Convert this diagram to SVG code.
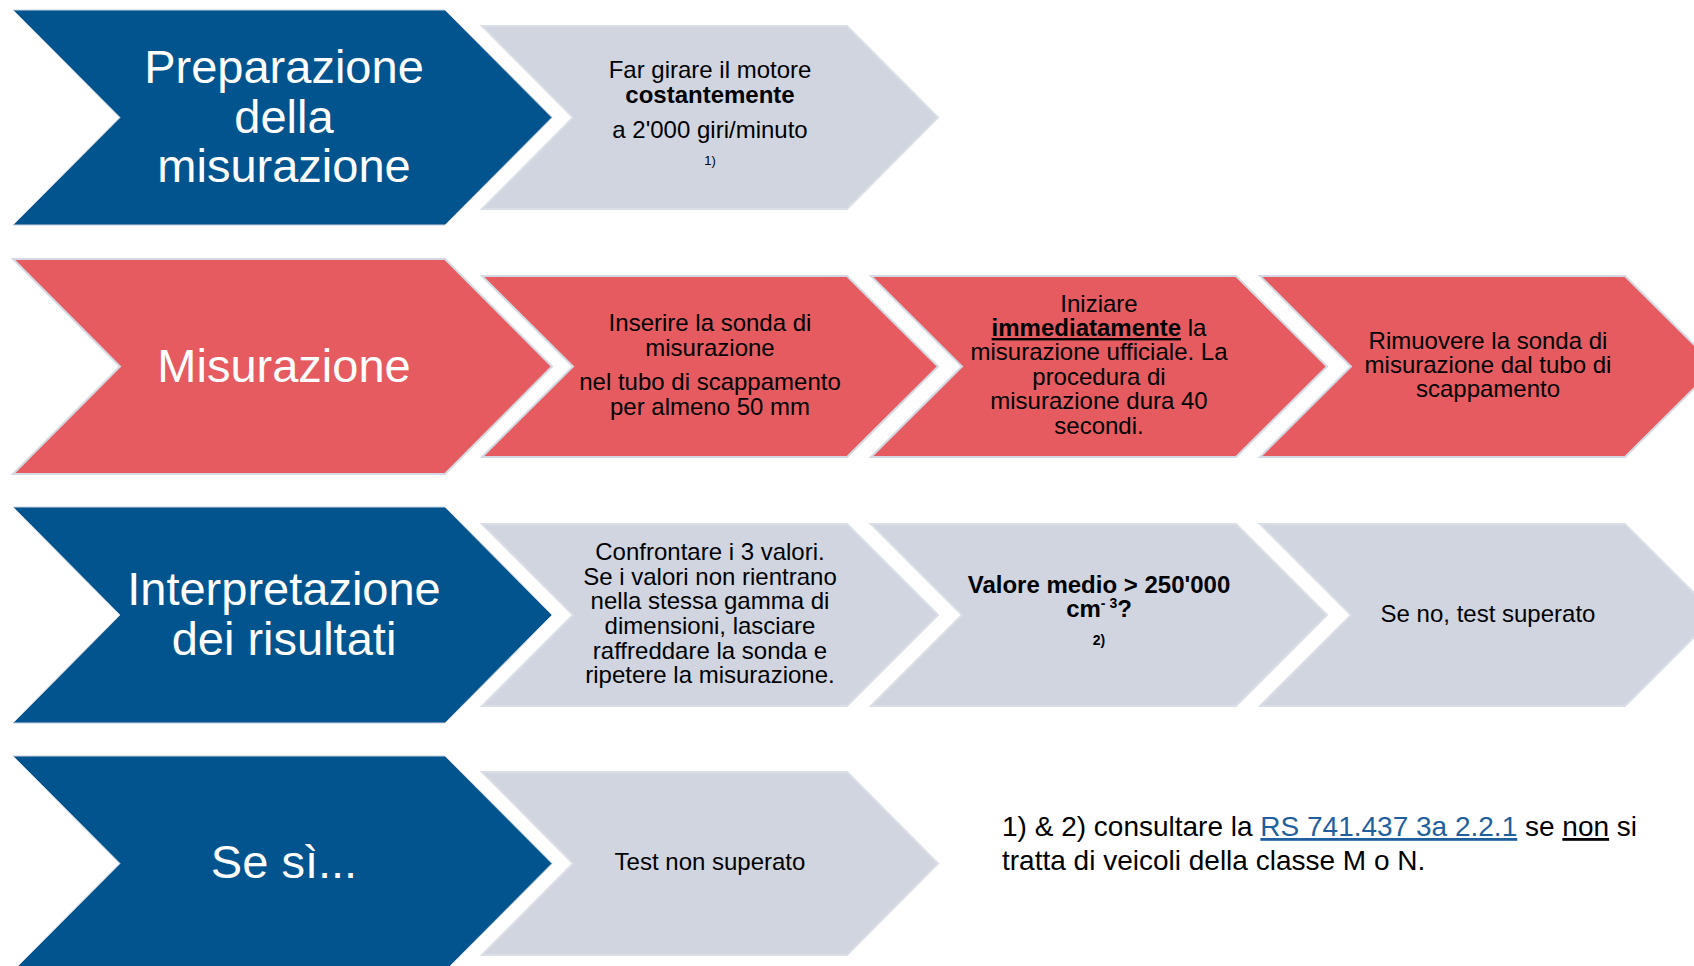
<svg xmlns="http://www.w3.org/2000/svg" width="1694" height="966" viewBox="0 0 1694 966">
<style>
.big{fill:#02548f;stroke:#c9d1dd;stroke-width:1}
.red{fill:#e65b60;stroke:#d3d8e2;stroke-width:2}
.grey{fill:#d0d5e0;stroke:#dadee7;stroke-width:2}
.bt{font-family:"Liberation Sans",Arial,sans-serif;font-size:47px;fill:#ffffff;text-anchor:middle}
.st{font-family:"Liberation Sans",Arial,sans-serif;font-size:24px;fill:#000000;text-anchor:middle}
.b{font-weight:bold}
.fn{font-family:"Liberation Sans",Arial,sans-serif;font-size:28px;fill:#000000}
.link{fill:#1f5f9e;text-decoration:underline}
</style>
<rect width="1694" height="966" fill="#ffffff"/>
<g id="connectors"/>

<!-- Row 1 -->
<g id="prep">
<polygon class="big" points="13,10 445,10 552,117.5 445,225 13,225 120,117.5"/>
<text class="bt" x="284" y="83">Preparazione</text>
<text class="bt" x="284" y="133">della</text>
<text class="bt" x="284" y="182">misurazione</text>
</g>
<g id="prep-1">
<polygon class="grey" points="482,26 847,26 938,117.5 847,209 482,209 573,117.5"/>
<text class="st" x="710" y="78">Far girare il motore</text>
<text class="st b" x="710" y="103">costantemente</text>
<text class="st" x="710" y="138">a 2'000 giri/minuto</text>
<text class="st" x="710" y="165" style="font-size:13px">1)</text>
</g>

<!-- Row 2 -->
<g id="misurazione">
<polygon class="red" points="13,259 445,259 552,366.5 445,474 13,474 120,366.5"/>
<text class="bt" x="284" y="382">Misurazione</text>
</g>
<g id="mis-1">
<polygon class="red" points="482,276 847,276 938,366.5 847,457 482,457 573,366.5"/>
<text class="st" x="710" y="331">Inserire la sonda di</text>
<text class="st" x="710" y="356">misurazione</text>
<text class="st" x="710" y="390">nel tubo di scappamento</text>
<text class="st" x="710" y="415">per almeno 50 mm</text>
</g>
<g id="mis-2">
<polygon class="red" points="871,276 1236,276 1327,366.5 1236,457 871,457 962,366.5"/>
<text class="st" x="1099" y="312">Iniziare</text>
<text class="st" x="1099" y="336"><tspan class="b" text-decoration="underline">immediatamente</tspan> la</text>
<text class="st" x="1099" y="360">misurazione ufficiale. La</text>
<text class="st" x="1099" y="385">procedura di</text>
<text class="st" x="1099" y="409">misurazione dura 40</text>
<text class="st" x="1099" y="434">secondi.</text>
</g>
<g id="mis-3">
<polygon class="red" points="1260,276 1625,276 1716,366.5 1625,457 1260,457 1351,366.5"/>
<text class="st" x="1488" y="349">Rimuovere la sonda di</text>
<text class="st" x="1488" y="373">misurazione dal tubo di</text>
<text class="st" x="1488" y="397">scappamento</text>
</g>

<!-- Row 3 -->
<g id="interp">
<polygon class="big" points="13,507 445,507 552,615 445,723 13,723 120,615"/>
<text class="bt" x="284" y="605">Interpretazione</text>
<text class="bt" x="284" y="655">dei risultati</text>
</g>
<g id="int-1">
<polygon class="grey" points="482,524 847,524 938,615 847,706 482,706 573,615"/>
<text class="st" x="710" y="560">Confrontare i 3 valori.</text>
<text class="st" x="710" y="585">Se i valori non rientrano</text>
<text class="st" x="710" y="609">nella stessa gamma di</text>
<text class="st" x="710" y="634">dimensioni, lasciare</text>
<text class="st" x="710" y="659">raffreddare la sonda e</text>
<text class="st" x="710" y="683">ripetere la misurazione.</text>
</g>
<g id="int-2">
<polygon class="grey" points="871,524 1236,524 1327,615 1236,706 871,706 962,615"/>
<text class="st b" x="1099" y="593">Valore medio &gt; 250'000</text>
<text class="st b" x="1099" y="617">cm<tspan font-size="14" dy="-9">- 3</tspan><tspan dy="9">?</tspan></text>
<text class="st b" x="1099" y="645" style="font-size:14px">2)</text>
</g>
<g id="int-3">
<polygon class="grey" points="1260,524 1625,524 1716,615 1625,706 1260,706 1351,615"/>
<text class="st" x="1488" y="622">Se no, test superato</text>
</g>

<!-- Row 4 -->
<g id="sesi">
<polygon class="big" points="13,756 445,756 552,863.5 445,971 13,971 120,863.5"/>
<text class="bt" x="284" y="878">Se sì...</text>
</g>
<g id="sesi-1">
<polygon class="grey" points="482,772 847,772 938,863.5 847,955 482,955 573,863.5"/>
<text class="st" x="710" y="870">Test non superato</text>
</g>

<g id="footnote">
<text class="fn" x="1002" y="836">1) &amp; 2) consultare la <tspan class="link">RS 741.437 3a 2.2.1</tspan> se <tspan text-decoration="underline">non</tspan> si</text>
<text class="fn" x="1002" y="870">tratta di veicoli della classe M o N.</text>
</g>
</svg>
